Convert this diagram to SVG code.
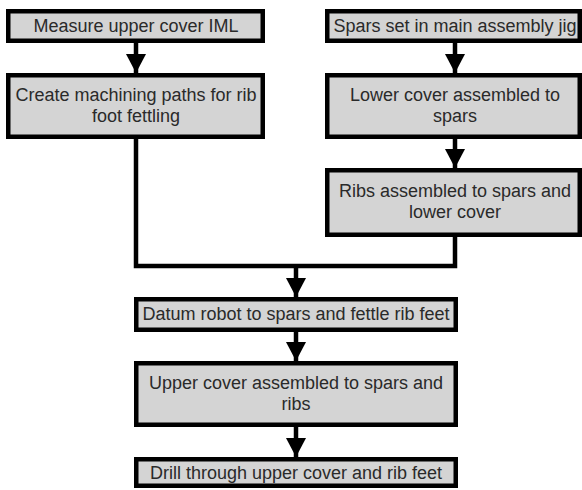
<svg xmlns="http://www.w3.org/2000/svg" width="582" height="490" viewBox="0 0 582 490">
<style>
.box{fill:#d4d4d4;stroke:#000;stroke-width:4.5}
.t{font-family:"Liberation Sans",Arial,sans-serif;font-size:18px;fill:#2a2a2a;text-anchor:middle}
.c{fill:none;stroke:#000;stroke-width:4.5}
</style>
<defs>
<marker id="ah" markerUnits="userSpaceOnUse" markerWidth="20" markerHeight="20" refX="19" refY="10" orient="auto">
<path d="M0,0 L19,10 L0,20 z" fill="#000"/>
</marker>
</defs>
<rect width="582" height="490" fill="#fff"/>
<g id="connectors">
<path class="c" d="M136,43 V73" marker-end="url(#ah)"/>
<path class="c" d="M455,43 V73" marker-end="url(#ah)"/>
<path class="c" d="M455,139 V168" marker-end="url(#ah)"/>
<path class="c" d="M136,139 V266 H455 V237"/>
<path class="c" d="M296,266 V297" marker-end="url(#ah)"/>
<path class="c" d="M296,332 V361" marker-end="url(#ah)"/>
<path class="c" d="M296,427 V457" marker-end="url(#ah)"/>
</g>
<g id="n1"><rect class="box" x="8.25" y="11.25" width="254.5" height="29.5"/><text class="t" x="136" y="32">Measure upper cover IML</text></g>
<g id="n2"><rect class="box" x="8.25" y="75.25" width="254.5" height="61.5"/><text class="t" x="136" y="101">Create machining paths for rib</text><text class="t" x="136" y="122">foot fettling</text></g>
<g id="n3"><rect class="box" x="327.25" y="11.25" width="252.5" height="29.5"/><text class="t" x="455" y="32">Spars set in main assembly jig</text></g>
<g id="n4"><rect class="box" x="327.25" y="75.25" width="252.5" height="61.5"/><text class="t" x="455" y="101">Lower cover assembled to</text><text class="t" x="455" y="122">spars</text></g>
<g id="n5"><rect class="box" x="327.25" y="170.25" width="252.5" height="64.5"/><text class="t" x="455" y="197">Ribs assembled to spars and</text><text class="t" x="455" y="218">lower cover</text></g>
<g id="n6"><rect class="box" x="136.25" y="299.25" width="319.5" height="30.5"/><text class="t" x="296" y="320">Datum robot to spars and fettle rib feet</text></g>
<g id="n7"><rect class="box" x="136.25" y="363.25" width="319.5" height="61.5"/><text class="t" x="296" y="389">Upper cover assembled to spars and</text><text class="t" x="296" y="410">ribs</text></g>
<g id="n8"><rect class="box" x="136.25" y="459.25" width="319.5" height="26.5"/><text class="t" x="296" y="479">Drill through upper cover and rib feet</text></g>
</svg>
